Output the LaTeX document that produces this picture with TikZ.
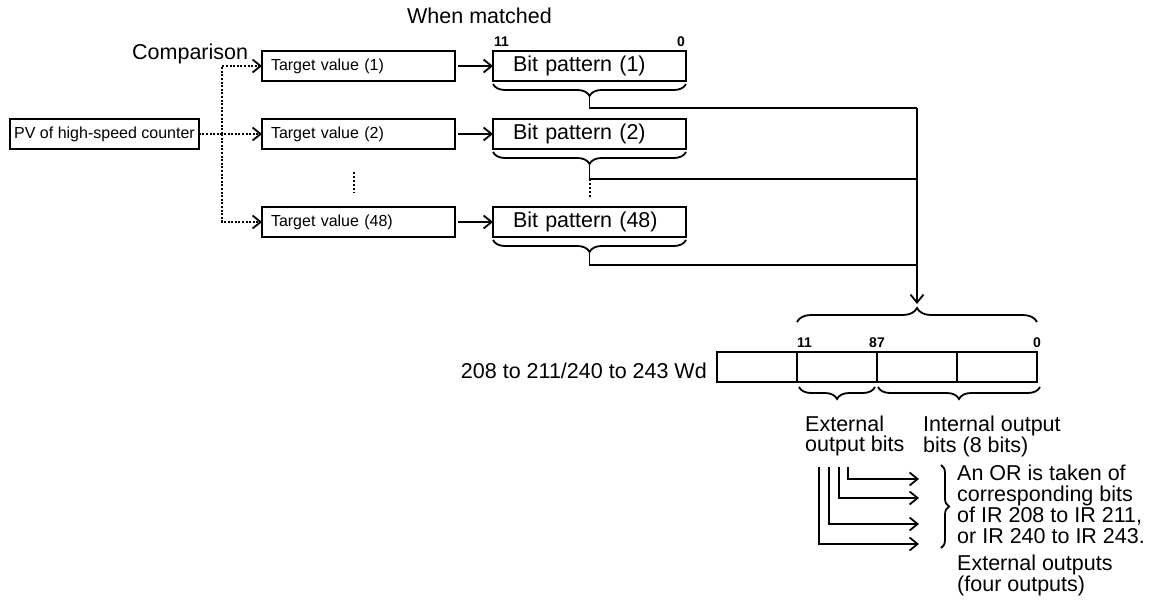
\documentclass[tikz,border=0pt]{standalone}
\usepackage{fontspec}
\setmainfont{Liberation Sans}
\usetikzlibrary{arrows.meta,positioning,decorations.pathreplacing}
\newcommand{\labelfont}{\fontsize{21.5}{20}\selectfont}
\newcommand{\boxfont}{\fontsize{16}{18}\selectfont}
\newcommand{\bitfont}{\fontsize{14}{14}\selectfont\bfseries}

\begin{document}
\begin{tikzpicture}[
  x=1pt,
  y=-1pt,
  font=\labelfont,
  valuebox/.style={draw,line width=2pt,minimum height=30pt,inner ysep=0pt,outer sep=0pt,font=\boxfont},
  targetbox/.style={valuebox,text width=175pt,inner xsep=9pt,align=left},
  patternbox/.style={valuebox,text width=153pt,inner xsep=20pt,align=left,font=\labelfont},
  regcell/.style={draw,line width=2pt,minimum width=80pt,minimum height=30pt,inner sep=0pt,outer sep=0pt},
  link/.style={draw,line width=1.8pt},
  flow/.style={link,-{Straight Barb[length=8pt,width=13pt]}},
  dotflow/.style={flow,dash pattern=on 2pt off 1.6pt},
  vdots/.style={draw,line width=2pt,dash pattern=on 2pt off 2pt},
  bracket/.style 2 args={draw,line width=1.8pt,decorate,decoration={brace,amplitude=#1,raise=#2}},
  bitno/.style={font=\bitfont,inner sep=0pt},
  note/.style={align=left,inner sep=0pt,anchor=north west}
]
  \useasboundingbox (0,0) rectangle (1152,608);

  % Counter value compared with every target value.
  \node[valuebox,inner xsep=4pt] (pv) at (104.5,134) {PV of high-speed counter};
  \node[targetbox] (t1) at (358.5,66) {Target value (1)};
  \node[targetbox] (t2) at (358.5,134) {Target value (2)};
  \node[targetbox] (t48) at (358.5,222) {Target value (48)};
  \node[anchor=base west,inner sep=0pt] (cmp) at (132,59) {Comparison};

  \coordinate (fork) at (222,134);
  \draw[dotflow] (pv) -- (t2);
  \draw[dotflow] (fork) |- (t1);
  \draw[dotflow] (fork) |- (t48);
  \draw[vdots] (354,172) -- (354,193);

  % Bit patterns, one per target value.
  \node[patternbox] (bp1) at (589.5,66) {Bit pattern (1)};
  \node[patternbox] (bp2) at (589.5,134) {Bit pattern (2)};
  \node[patternbox] (bp48) at (589.5,222) {Bit pattern (48)};
  \node[anchor=base west,inner sep=0pt] (match) at (407,23) {When matched};
  \node[bitno,above right=4pt and 1pt of bp1.north west] (bphi) {11};
  \node[bitno,above left=4pt and 1pt of bp1.north east] (bplo) {0};

  \foreach \i in {1,2,48} {
    \draw[flow,shorten <=3pt] (t\i) -- (bp\i);
    \draw[bracket={12}{3pt}] (bp\i.south east) -- (bp\i.south west);
    \path (bp\i.south) ++(0,15) coordinate (k\i);
  }

  % Matched patterns collected into one word.
  \coordinate (j1) at (917,108);
  \coordinate (j2) at (917,179);
  \coordinate (j48) at (917,265);
  \coordinate (rtip) at (917,304);
  \draw[link] (k1) |- (j1);
  \draw[link] (k2) |- (j2);
  \draw[link] (k48) |- (j48);
  \draw[flow] (j1) -- (rtip);
  \draw[vdots] (k2 |- j2) -- ++(0,18);

  % Output word.
  \node[regcell] (r1) at (757,367) {};
  \node[regcell,right=0pt of r1] (r2) {};
  \node[regcell,right=0pt of r2] (r3) {};
  \node[regcell,right=0pt of r3] (r4) {};
  \node[left=10pt of r1,inner sep=0pt,yshift=-4pt] (wd) {208 to 211/240 to 243 Wd};
  \draw[bracket={14}{30pt}] (r2.north west) -- (r4.north east);
  \node[bitno,above right=4pt and 0pt of r2.north west] (r2hi) {11};
  \node[bitno,above=4pt of r3.north west] (r3hi) {87};
  \node[bitno,above=4pt of r4.north east] (r4lo) {0};

  \draw[bracket={12}{5pt}] ([xshift=-2pt]r3.south west) -- ([xshift=2pt]r2.south west);
  \draw[bracket={12}{5pt}] ([xshift=3pt]r4.south east) -- ([xshift=1pt]r3.south west);
  \node[note] (extbits) at (805,416) {External\\output bits};
  \node[note] (intbits) at (923,416) {Internal output\\bits (8 bits)};

  % Four external outputs.
  \foreach \x/\y [count=\i] in {848/479,839/498,829/524,819/544} {
    \coordinate (ob\i) at (\x,467);
    \coordinate (oe\i) at (919,\y);
    \draw[flow] (ob\i) |- (oe\i);
  }
  \draw[bracket={8}{0pt}] (941,465) -- (941,548);
  \node[note,font={\fontsize{21.5}{21}\selectfont}] (ortxt) at (957,465)
    {An OR is taken of\\corresponding bits\\of IR 208 to IR 211,\\or IR 240 to IR 243.};
  \node[note] (outs) at (957,555) {External outputs\\(four outputs)};
\end{tikzpicture}
\end{document}
